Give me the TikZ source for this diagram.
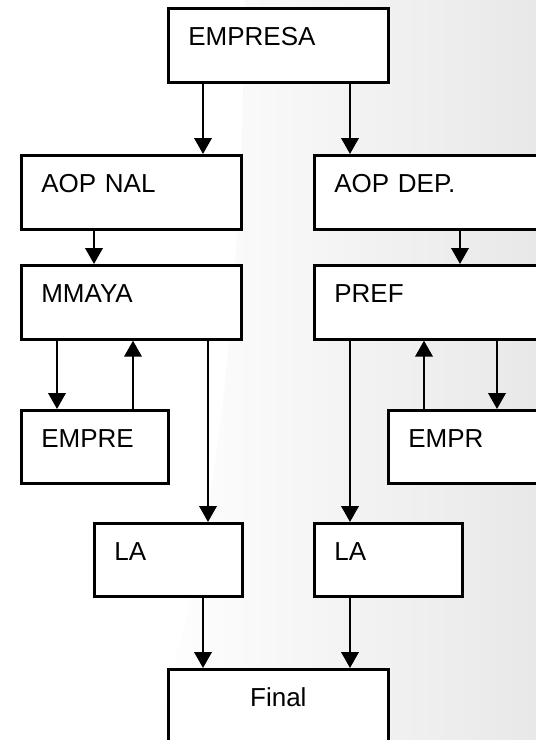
\documentclass[tikz,border=0pt]{standalone}
\usepackage{fontspec}
\setmainfont{Liberation Sans}
\usetikzlibrary{arrows.meta}
\begin{document}
\begin{tikzpicture}[x=0.75pt,y=-0.75pt,
  box/.style={draw=black, line width=2pt, fill=white, rectangle, anchor=north west,
    inner xsep=15pt, inner ysep=0pt, text height=27.75pt, text depth=27.75pt,
    align=left, font=\fontsize{19.5pt}{22pt}\selectfont},
  arr/.style={line width=2pt, -{Triangle[width=13pt,length=12pt]}}]
\useasboundingbox (0,0) rectangle (536,740);
\clip (0,0) rectangle (536,740);
\fill[white] (0,0) rectangle (536,740);
\shade[left color=white, right color=gray!18]
  (245,0) -- (536,0) -- (536,740) -- (150,740) .. controls (200,600) and (240,400) .. (245,0) -- cycle;

\node[box, text width=135pt] (empresa) at (167,7) {EMPRESA};
\node[box, text width=135pt] (aopnal) at (20,154) {AOP NAL};
\node[box, text width=144pt] (aopdep) at (313,154) {AOP DEP.};
\node[box, text width=135pt] (mmaya) at (20,264) {MMAYA};
\node[box, text width=144pt] (pref) at (313,264) {PREF};
\node[box, text width=80.25pt, text depth=27pt] (empre) at (20,409) {EMPRE};
\node[box, text width=88.5pt, text depth=27pt] (empr) at (387,409) {EMPR};
\node[box, text width=81pt, text depth=27pt] (laL) at (93,522) {LA};
\node[box, text width=81pt, text depth=27pt] (laR) at (313,522) {LA};
\node[box, text width=135pt, align=center, text depth=31pt] (final) at (167,668) {Final};

\draw[arr] ([xshift=27pt]empresa.south west) -- ([xshift=27pt]empresa.south west |- aopnal.north);
\draw[arr] ([xshift=137.25pt]empresa.south west) -- ([xshift=137.25pt]empresa.south west |- aopdep.north);
\draw[arr] ([xshift=55.5pt]aopnal.south west) -- ([xshift=55.5pt]aopnal.south west |- mmaya.north);
\draw[arr] ([xshift=110.25pt]aopdep.south west) -- ([xshift=110.25pt]aopdep.south west |- pref.north);
\draw[arr] ([xshift=27.75pt]mmaya.south west) -- ([xshift=27.75pt]mmaya.south west |- empre.north);
\draw[arr] ([xshift=84.75pt]empre.north west) -- ([xshift=84.75pt]empre.north west |- mmaya.south);
\draw[arr] ([xshift=141pt]mmaya.south west) -- ([xshift=141pt]mmaya.south west |- laL.north);
\draw[arr] ([xshift=27.75pt]empr.north west) -- ([xshift=27.75pt]empr.north west |- pref.south);
\draw[arr] ([xshift=82.5pt]empr.north west |- pref.south) -- ([xshift=82.5pt]empr.north west);
\draw[arr] ([xshift=27.75pt]pref.south west) -- ([xshift=27.75pt]pref.south west |- laR.north);
\draw[arr] ([xshift=27pt]final.north west |- laL.south) -- ([xshift=27pt]final.north west);
\draw[arr] ([xshift=137.25pt]final.north west |- laR.south) -- ([xshift=137.25pt]final.north west);
\end{tikzpicture}
\end{document}
